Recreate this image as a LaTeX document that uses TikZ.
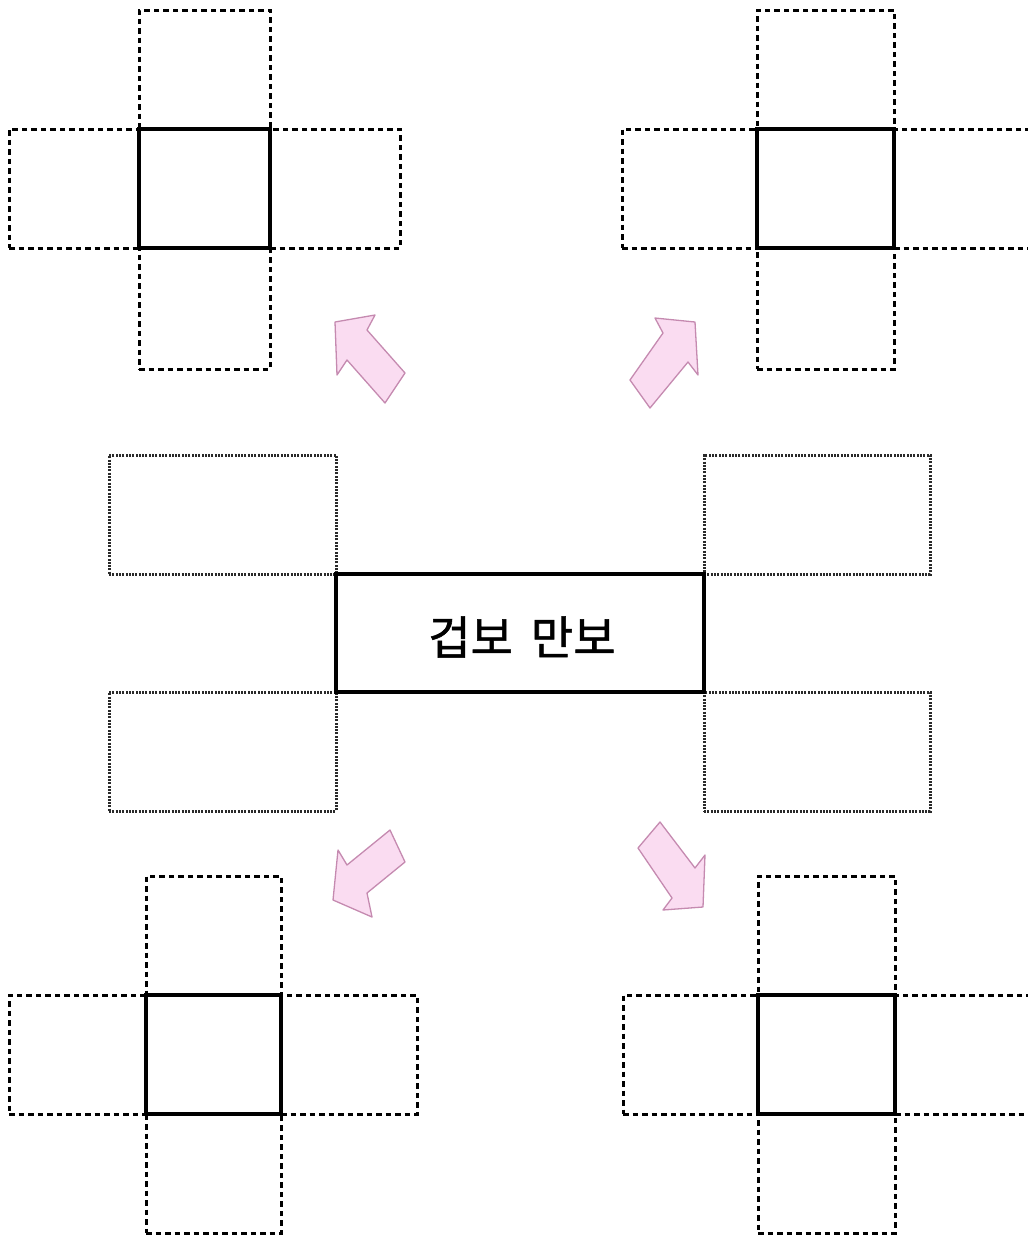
\documentclass[tikz,border=0pt]{standalone}
\usepackage{fontspec}
\newfontfamily\krfont[FakeBold=1.2]{Noto Sans CJK KR}
\definecolor{arrfill}{HTML}{FADCF1}
\definecolor{arrline}{HTML}{C58AB0}
\definecolor{dotgray}{HTML}{2A2A2A}
\begin{document}
\begin{tikzpicture}[x=1pt,y=-1pt,
  boxbase/.style={inner sep=0pt, outer sep=0pt, anchor=north west},
  solidbox/.style={boxbase, draw=black, line width=3.2pt},
  dashbox/.style={boxbase, draw=black, line width=3pt, dash pattern=on 5.5pt off 4pt},
  dotbox/.style={boxbase, draw=dotgray, line width=3pt, dash pattern=on 2pt off 1.3pt},
  bigarrow/.style={fill=arrfill, draw=arrline, line width=1.3pt, line join=round}]
\useasboundingbox (0,0) rectangle (1028,1235);
% ---- top-left net
\node[dashbox, minimum width=131pt, minimum height=119pt] (tl-t) at (139,10) {};
\node[dashbox, minimum width=131pt, minimum height=121pt] (tl-b) at (139,248) {};
\node[dashbox, minimum width=130pt, minimum height=119pt] (tl-l) at (9,129) {};
\node[dashbox, minimum width=130pt, minimum height=119pt] (tl-r) at (270,129) {};
\node[solidbox, minimum width=131pt, minimum height=119pt] (tl-c) at (139,129) {};
% ---- top-right net
\node[dashbox, minimum width=137pt, minimum height=119pt] (tr-t) at (757,10) {};
\node[dashbox, minimum width=137pt, minimum height=121pt] (tr-b) at (757,248) {};
\node[dashbox, minimum width=135pt, minimum height=119pt] (tr-l) at (622,129) {};
\node[dashbox, minimum width=137pt, minimum height=119pt] (tr-r) at (894,129) {};
\node[solidbox, minimum width=137pt, minimum height=119pt] (tr-c) at (757,129) {};
% ---- bottom-left net
\node[dashbox, minimum width=135pt, minimum height=119pt] (bl-t) at (146,876) {};
\node[dashbox, minimum width=135pt, minimum height=119pt] (bl-b) at (146,1114) {};
\node[dashbox, minimum width=137pt, minimum height=119pt] (bl-l) at (9,995) {};
\node[dashbox, minimum width=136pt, minimum height=119pt] (bl-r) at (281,995) {};
\node[solidbox, minimum width=135pt, minimum height=119pt] (bl-c) at (146,995) {};
% ---- bottom-right net
\node[dashbox, minimum width=137pt, minimum height=119pt] (br-t) at (758,876) {};
\node[dashbox, minimum width=137pt, minimum height=119pt] (br-b) at (758,1114) {};
\node[dashbox, minimum width=135pt, minimum height=119pt] (br-l) at (623,995) {};
\node[dashbox, minimum width=137pt, minimum height=119pt] (br-r) at (895,995) {};
\node[solidbox, minimum width=137pt, minimum height=119pt] (br-c) at (758,995) {};
% ---- centre
\node[dotbox, minimum width=227pt, minimum height=119pt] (c-tl) at (109,455) {};
\node[dotbox, minimum width=227pt, minimum height=119pt] (c-bl) at (109,692) {};
\node[dotbox, minimum width=226pt, minimum height=119pt] (c-tr) at (704,455) {};
\node[dotbox, minimum width=226pt, minimum height=119pt] (c-br) at (704,692) {};
\node[solidbox, minimum width=368pt, minimum height=118pt] (main) at (336,574) {};
\node[font=\krfont\fontsize{46}{54}\selectfont, inner sep=0pt] (title) at (522,637) {겁보\hspace{18pt}만보};
% ---- arrows
\draw[bigarrow] (335,322) -- (375,315) -- (367,330) -- (405,373) -- (385,403) -- (347,360) -- (337,375) -- cycle;
\draw[bigarrow] (695,322) -- (655,318) -- (663,333) -- (630,380) -- (650,408) -- (688,362) -- (698,375) -- cycle;
\draw[bigarrow] (333,900) -- (338,850) -- (347,865) -- (390,830) -- (405,862) -- (367,893) -- (372,917) -- cycle;
\draw[bigarrow] (703,907) -- (705,855) -- (695,868) -- (660,822) -- (638,848) -- (672,898) -- (663,910) -- cycle;
\end{tikzpicture}
\end{document}
